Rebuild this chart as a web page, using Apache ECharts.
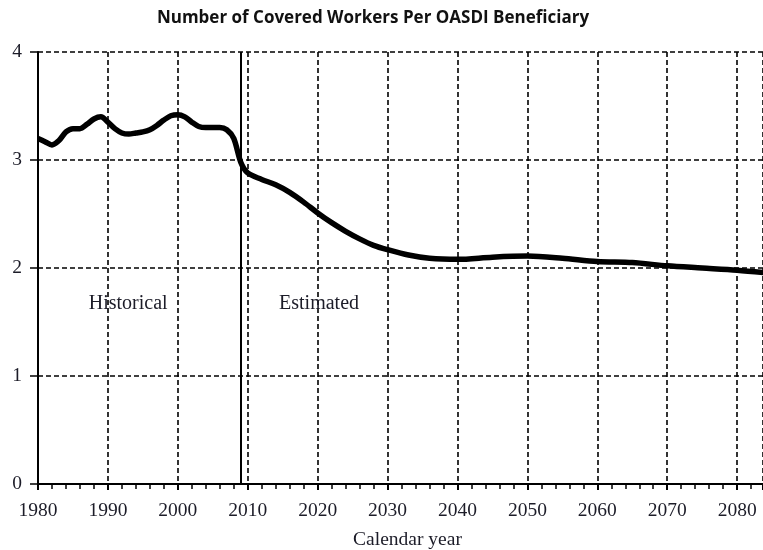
<!DOCTYPE html>
<html>
<head>
<meta charset="utf-8">
<script src="https://cdn.jsdelivr.net/npm/echarts@6/dist/echarts.min.js"></script>
<style>html,body{margin:0;padding:0;background:#fff;}#c{width:763px;height:550px;}</style>
</head>
<body>
<div id="c"></div>
<script>
const years = [1980,1981,1982,1983,1984,1985,1986,1987,1988,1989,1990,1991,1992,1993,1994,1995,1996,1997,1998,1999,2000,2001,2002,2003,2004,2005,2006,2007,2008,2009,2010,2012,2014,2016,2018,2020,2022,2024,2026,2028,2030,2033,2036,2040,2045,2050,2055,2060,2065,2070,2075,2080,2085];
const workersPerBeneficiary = [3.20,3.17,3.14,3.18,3.26,3.29,3.29,3.33,3.38,3.40,3.35,3.29,3.25,3.24,3.25,3.26,3.28,3.32,3.37,3.41,3.42,3.40,3.35,3.31,3.30,3.30,3.30,3.28,3.20,2.98,2.88,2.82,2.77,2.70,2.61,2.51,2.42,2.34,2.27,2.21,2.17,2.12,2.09,2.08,2.10,2.11,2.09,2.06,2.05,2.02,2.00,1.98,1.95];
const dividerYear = 2009;
const periodLabels = [{name:'Historical', year:1992.9, value:1.67},{name:'Estimated', year:2020.2, value:1.67}];
const titleText = 'Number of Covered Workers Per OASDI Beneficiary';
const xName = 'Calendar year';

const serif = '"Liberation Serif", "Times New Roman", serif';
const textColor = '#1c1c28';
const chart = echarts.init(document.getElementById('c'));
chart.setOption({
  animation:false,
  backgroundColor:'#fff',
  title:{text:titleText,left:368,top:5,textAlign:'center',textStyle:{fontFamily:'"Open Sans", Lato, sans-serif',fontWeight:'bold',fontSize:17,color:'#111'}},
  grid:{left:38,right:0,top:52,bottom:66,containLabel:false,outerBoundsMode:'none'},
  xAxis:{type:'value',min:1980,max:2083.7,interval:10,
    name:xName,nameLocation:'middle',nameGap:46,
    nameTextStyle:{fontFamily:serif,fontSize:19.5,color:textColor,padding:[0,0,0,14]},
    axisLine:{show:true,onZero:false,lineStyle:{color:'#000',width:2}},
    axisTick:{show:true,inside:false,length:6,lineStyle:{color:'#000',width:2}},
    minorTick:{show:true,splitNumber:5,length:5,lineStyle:{color:'#000',width:1.5}},
    axisLabel:{fontFamily:serif,fontSize:19.5,color:textColor,margin:17,formatter:v=> (v%10===0?String(v):'')},
    splitLine:{show:true,lineStyle:{color:'#000',type:[5,3],width:1.6}}
  },
  yAxis:{type:'value',min:0,max:4,interval:1,
    axisLine:{show:true,lineStyle:{color:'#000',width:2}},
    axisTick:{show:true,inside:false,length:8,lineStyle:{color:'#000',width:1.5}},
    axisLabel:{fontFamily:serif,fontSize:19.5,color:textColor,margin:16},
    splitLine:{show:true,lineStyle:{color:'#000',type:[5,3],width:1.6}}
  },
  series:[{
    type:'line',
    data:years.map((y,i)=>[y,workersPerBeneficiary[i]]),
    showSymbol:false,smooth:0.3,
    lineStyle:{color:'#000',width:5.5},
    clip:true,
    markLine:{silent:true,symbol:'none',label:{show:false},
      lineStyle:{color:'#000',width:2,type:'solid'},
      data:[{xAxis:dividerYear}]},
    markPoint:{silent:true,symbol:'rect',symbolSize:0.01,
      label:{show:true,position:'inside',fontFamily:serif,fontSize:20,color:textColor,formatter:p=>p.name},
      data:periodLabels.map(p=>({name:p.name,coord:[p.year,p.value]}))}
  }]
});
</script>
</body>
</html>
